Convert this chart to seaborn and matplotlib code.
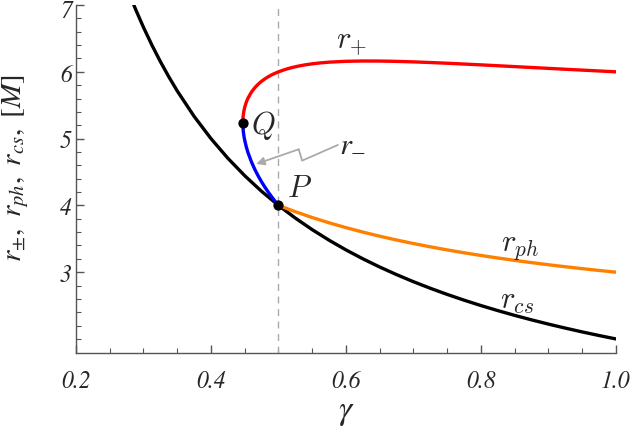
import matplotlib
matplotlib.use("Agg")
import matplotlib.pyplot as plt
import matplotlib.transforms as mtransforms
import seaborn as sns
import numpy as np
import pandas as pd

# ---- data ----
gamma_cs = [0.2857, 0.29, 0.30, 0.3125, 0.325, 0.3375, 0.35, 0.375, 0.40, 0.425, 0.45, 0.475,
            0.50, 0.525, 0.55, 0.575, 0.60, 0.625, 0.65, 0.675, 0.70, 0.725, 0.75, 0.775,
            0.80, 0.825, 0.85, 0.875, 0.90, 0.925, 0.95, 0.975, 1.00]
r_cs = [7.0, 6.8966, 6.6667, 6.4, 6.1538, 5.9259, 5.7143, 5.3333, 5.0, 4.7059, 4.4444, 4.2105,
        4.0, 3.8095, 3.6364, 3.4783, 3.3333, 3.2, 3.0769, 2.9630, 2.8571, 2.7586, 2.6667, 2.5806,
        2.5, 2.4242, 2.3529, 2.2857, 2.2222, 2.1622, 2.1053, 2.0513, 2.0]

gamma_ph = [0.50, 0.525, 0.55, 0.575, 0.60, 0.625, 0.65, 0.675, 0.70, 0.725, 0.75, 0.775,
            0.80, 0.825, 0.85, 0.875, 0.90, 0.925, 0.95, 0.975, 1.00]
r_ph = [4.0, 3.9048, 3.8182, 3.7391, 3.6667, 3.6, 3.5385, 3.4815, 3.4286, 3.3793, 3.3333, 3.2903,
        3.25, 3.2121, 3.1765, 3.1429, 3.1111, 3.0811, 3.0526, 3.0256, 3.0]

gamma_plus = [0.44721, 0.4473, 0.4475, 0.448, 0.449, 0.45, 0.4525, 0.455, 0.46, 0.465, 0.47, 0.475,
              0.48, 0.485, 0.49, 0.495, 0.50, 0.51, 0.52, 0.53, 0.54, 0.55, 0.56, 0.575, 0.60,
              0.625, 0.65, 0.675, 0.70, 0.725, 0.75, 0.775, 0.80, 0.825, 0.85, 0.875, 0.90,
              0.925, 0.95, 0.975, 1.00]
r_plus = [5.2361, 5.2796, 5.3146, 5.3646, 5.4264, 5.4707, 5.5507, 5.6097, 5.6975, 5.7631, 5.8154,
          5.8588, 5.8956, 5.9272, 5.9546, 5.9787, 6.0, 6.0356, 6.0640, 6.0868, 6.1051, 6.1198,
          6.1315, 6.1446, 6.1574, 6.1620, 6.1612, 6.1564, 6.1488, 6.1393, 6.1284, 6.1165, 6.1041,
          6.0911, 6.0780, 6.0648, 6.0516, 6.0384, 6.0254, 6.0126, 6.0]

gamma_minus = [0.44721, 0.4473, 0.4475, 0.448, 0.449, 0.45, 0.4525, 0.455, 0.46, 0.465, 0.47,
               0.475, 0.48, 0.485, 0.49, 0.495, 0.50]
r_minus = [5.2361, 5.1917, 5.1547, 5.0997, 5.0279, 4.9738, 4.8692, 4.7859, 4.6504, 4.5380, 4.4399,
           4.3517, 4.2711, 4.1966, 4.1270, 4.0617, 4.0]

point_names = ["Q", "P"]
point_gamma = [0.44721, 0.50]
point_r = [5.2361, 4.0]

x_ticks = [0.2, 0.4, 0.6, 0.8, 1.0]
x_tick_labels = ["0.2", "0.4", "0.6", "0.8", "1.0"]
y_ticks = [3, 4, 5, 6, 7]
y_tick_labels = ["3", "4", "5", "6", "7"]

sns.set_theme(style="ticks")
plt.rcParams["font.family"] = ["STIXGeneral", "DejaVu Serif"]
plt.rcParams["mathtext.fontset"] = "cm"

fig = plt.figure(figsize=(6.31, 4.31), dpi=100)
ax = fig.add_axes([0.1204, 0.1787, 0.8558, 0.8073])

ax.axvline(0.5, color="#aaaaaa", lw=1.0, ls=(0, (5, 4)), zorder=1)

sns.lineplot(x=gamma_cs, y=r_cs, color="black", lw=2.4, ax=ax, sort=False, zorder=3)
sns.lineplot(x=gamma_ph, y=r_ph, color="#ff8000", lw=2.4, ax=ax, sort=False, zorder=3)
sns.lineplot(x=gamma_plus, y=r_plus, color="#ff0000", lw=2.4, ax=ax, sort=False, zorder=3)
sns.lineplot(x=gamma_minus, y=r_minus, color="#0000ff", lw=2.4, ax=ax, sort=False, zorder=4)
sns.scatterplot(x=point_gamma, y=point_r, color="black", s=55, ax=ax, zorder=5,
                edgecolor="black", linewidth=0)

# labels
lab_fs = 22
ax.text(0.459, 5.21, "$Q$", fontsize=lab_fs, va="center", ha="left")
ax.text(0.512, 4.24, "$P$", fontsize=lab_fs, va="center", ha="left")
ax.text(0.608, 6.45, "$r_{+}$", fontsize=lab_fs, va="center", ha="center")
ax.text(0.610, 4.93, "$r_{-}$", fontsize=lab_fs, va="center", ha="center",
        math_fontfamily="stix")
ax.text(0.858, 3.37, "$r_{ph}$", fontsize=lab_fs, va="center", ha="center")
ax.text(0.853, 2.57, "$r_{cs}$", fontsize=lab_fs, va="center", ha="center")

# zigzag arrow
ax.plot([0.588, 0.535, 0.530], [4.905, 4.67, 4.84], color="#aaaaaa", lw=1.3, zorder=2)
ax.annotate("", xy=(0.467, 4.62), xytext=(0.530, 4.84),
            arrowprops=dict(arrowstyle="-|>", color="#aaaaaa", lw=1.3,
                            mutation_scale=12, shrinkA=0, shrinkB=0), zorder=2)

ax.set_xlim(0.2, 1.0)
ax.set_ylim(1.79, 7.0)
ax.set_xticks(x_ticks)
ax.set_xticklabels(x_tick_labels)
ax.set_yticks(y_ticks)
ax.set_yticklabels(y_tick_labels)
ax.set_xticks(np.arange(0.25, 1.0, 0.05), minor=True)
ax.set_yticks([2.0, 2.2, 2.4, 2.6, 2.8, 3.2, 3.4, 3.6, 3.8, 4.2, 4.4, 4.6, 4.8,
               5.2, 5.4, 5.6, 5.8, 6.2, 6.4, 6.6, 6.8], minor=True)
for lab in ax.get_xticklabels() + ax.get_yticklabels():
    lab.set_fontfamily("STIXGeneral")
    lab.set_fontstyle("italic")
    lab.set_fontsize(17)
ax.tick_params(which="major", direction="in", length=6, width=1, color="#555555")
ax.tick_params(which="minor", direction="in", length=3.5, width=0.8, color="#555555")
ax.tick_params(axis="x", which="major", pad=12)
ax.tick_params(axis="y", which="major", pad=3)
# nudge the top "7" label slightly down so it stays inside the canvas
top_lab = ax.get_yticklabels()[-1]
top_lab.set_transform(top_lab.get_transform() +
                      mtransforms.ScaledTranslation(0, -3 / 100, fig.dpi_scale_trans))
sns.despine(ax=ax)
for s in ["left", "bottom"]:
    ax.spines[s].set_color("#555555")
    ax.spines[s].set_linewidth(1.0)

ax.set_xlabel(r"$\gamma$", fontsize=24, math_fontfamily="stix", labelpad=4)
ax.set_ylabel(r"$r_{\pm},\ r_{ph},\ r_{cs},\ [M]$", fontsize=21, math_fontfamily="stix")
ax.yaxis.set_label_coords(-0.083, 0.535)

fig.savefig("out.png", dpi=100)
